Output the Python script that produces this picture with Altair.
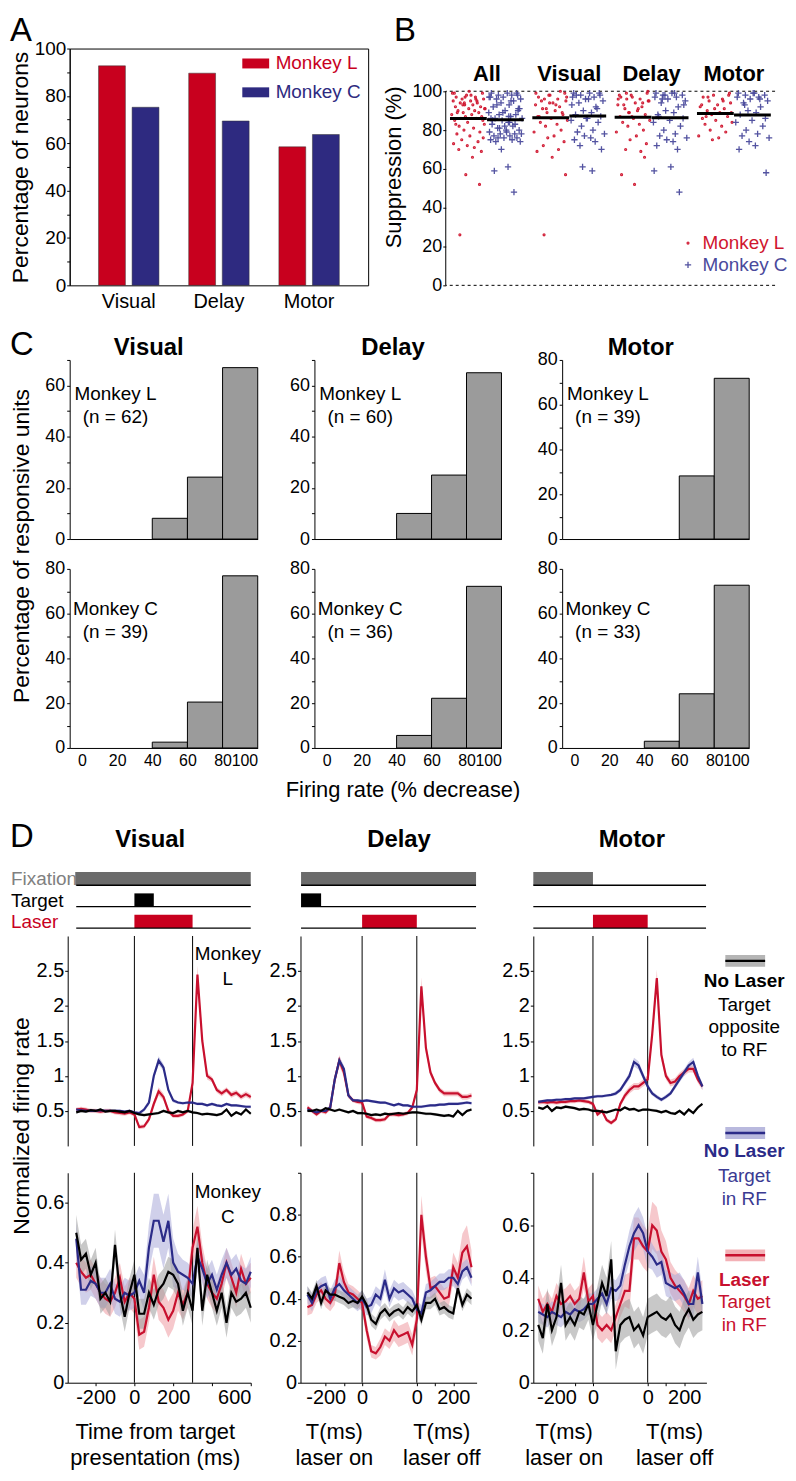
import altair as alt
import pandas as pd

FONT = "Liberation Sans"
A_RED, A_BLUE = "#c8001e", "#2e2a80"
B_RED, B_BLUE = "#d0162f", "#4a4a9c"
D_RED, D_BLUE = "#c8102e", "#2b2b88"

# ---------------- Panel A ----------------
A_EPOCHS = ["Visual", "Delay", "Motor"]
A_MONKEYS = ["Monkey L", "Monkey C"]
A_PCT_L = [92.7, 89.6, 58.5]
A_PCT_C = [75.2, 69.4, 63.7]
A_YTICKS = [0, 10, 20, 30, 40, 50, 60, 70, 80, 90, 100]

# ---------------- Panel B ----------------
B_GROUPS = ["All", "Visual", "Delay", "Motor"]
B_MONKEYS = ["Monkey L", "Monkey C"]
B_L = {
    "All": [99, 98, 97, 97, 96, 96, 95, 95, 94, 94, 93, 93, 92, 92, 91, 91, 90, 90, 89, 89, 88, 88, 87, 87, 86, 86,
            85, 84, 83, 82, 81, 80, 79, 78, 77, 76, 75, 74, 73, 72, 71, 70, 69, 97, 98, 99, 95, 93, 91, 89, 66, 57,
            52, 26, 100, 99, 96, 94, 85, 83],
    "Visual": [99, 98, 97, 96, 96, 95, 94, 93, 92, 91, 90, 89, 88, 87, 86, 85, 84, 83, 82, 80, 79, 77, 76, 74, 72,
               70, 69, 98, 97, 95, 93, 91, 89, 87, 66, 57, 26, 100, 99, 94],
    "Delay": [99, 98, 97, 96, 96, 95, 94, 93, 92, 91, 90, 89, 88, 87, 86, 85, 84, 83, 82, 80, 79, 77, 75, 73, 70,
              69, 98, 97, 95, 93, 91, 89, 66, 57, 52, 100, 99, 94, 96, 87],
    "Motor": [99, 98, 97, 96, 95, 94, 93, 92, 91, 90, 89, 88, 87, 86, 85, 84, 83, 82, 80, 79, 77, 76, 75, 98, 97,
              95, 93, 91, 89, 87],
}
B_C = {
    "All": [99, 99, 98, 98, 98, 97, 97, 96, 96, 95, 94, 93, 92, 91, 90, 89, 88, 88, 87, 86, 86, 85, 84, 83, 82, 81,
            80, 80, 79, 78, 78, 77, 77, 76, 76, 75, 75, 74, 74, 79, 81, 83, 85, 87, 89, 91, 93, 95, 97, 99, 70, 61,
            59, 48, 82, 78, 76, 84, 86, 90],
    "Visual": [99, 99, 98, 98, 97, 97, 96, 95, 94, 92, 90, 89, 88, 87, 86, 85, 84, 82, 80, 79, 78, 77, 76, 75, 74,
               72, 70, 96, 93, 91, 61, 59, 98, 99, 86],
    "Delay": [99, 99, 98, 98, 97, 97, 96, 95, 94, 92, 90, 89, 88, 86, 85, 84, 82, 80, 78, 77, 76, 75, 74, 72, 70,
              96, 93, 61, 59, 48, 98, 99, 87],
    "Motor": [99, 99, 98, 98, 97, 97, 96, 95, 94, 92, 90, 89, 88, 86, 85, 84, 82, 80, 78, 77, 76, 74, 72, 70, 96,
              93, 58, 99],
}
B_JITTER = [0.12, 0.55, 0.83, 0.31, 0.67, 0.09, 0.44, 0.91, 0.26, 0.72, 0.38, 0.60, 0.17, 0.85, 0.49, 0.05,
            0.78, 0.33, 0.64, 0.22, 0.95, 0.41, 0.58, 0.14, 0.70, 0.29, 0.87, 0.52, 0.07, 0.75, 0.36, 0.62,
            0.19, 0.81, 0.46, 0.10, 0.68, 0.24, 0.90, 0.53, 0.34, 0.76, 0.15, 0.59, 0.43, 0.88, 0.27, 0.65,
            0.06, 0.80, 0.39, 0.57, 0.20, 0.73, 0.48, 0.93, 0.30, 0.61, 0.11, 0.84, 0.45, 0.69, 0.23, 0.92]
B_MEAN_L = [85.9, 86.3, 86.6, 88.5]
B_MEAN_C = [85.3, 87.3, 86.3, 87.8]
B_REF = [0, 100]
B_YTICKS = [0, 20, 40, 60, 80, 100]

# ---------------- Panel C ----------------
C_EPOCHS = ["Visual", "Delay", "Motor"]
C_BIN_LO = [0, 20, 40, 60, 80]
C_BIN_HI = [20, 40, 60, 80, 100]
C_PCT = {
    "L": {"Visual": [0, 0, 8.1, 24.2, 67.0], "Delay": [0, 0, 10.0, 25.0, 65.0], "Motor": [0, 0, 0, 28.2, 71.8]},
    "C": {"Visual": [0, 0, 2.6, 20.5, 76.9], "Delay": [0, 0, 5.6, 22.2, 72.2], "Motor": [0, 0, 3.0, 24.2, 72.7]},
}
C_N = {"L": {"Visual": 62, "Delay": 60, "Motor": 39}, "C": {"Visual": 39, "Delay": 36, "Motor": 33}}
C_XTICKS = [0, 20, 40, 60, 80, 100]

# ---------------- Panel D ----------------
T_MS = [-300, -275, -250, -225, -200, -175, -150, -125, -100, -75, -50, -25,
        0, 25, 50, 75, 100, 125, 150, 175, 200, 225, 250, 275,
        300, 325, 350, 375, 400, 425, 450, 475, 500, 525, 550, 575, 600]
CONDS = ["Laser, target in RF", "No laser, target in RF", "No laser, target opposite to RF"]
LASER_EDGES = [0, 300]

D_DATA = {
    ("Visual", "top"): {
        "red": [0.52, 0.53, 0.52, 0.50, 0.50, 0.49, 0.50, 0.50, 0.48, 0.47, 0.46, 0.48,
                0.45, 0.27, 0.28, 0.38, 0.60, 0.78, 0.70, 0.50, 0.43, 0.43, 0.45, 0.50,
                0.90, 2.45, 1.50, 1.00, 0.95, 0.80, 0.75, 0.80, 0.73, 0.76, 0.70, 0.74, 0.70],
        "blue": [0.52, 0.51, 0.50, 0.50, 0.50, 0.51, 0.50, 0.50, 0.50, 0.50, 0.49, 0.50,
                 0.48, 0.47, 0.52, 0.62, 1.00, 1.22, 1.12, 0.80, 0.65, 0.62, 0.61, 0.62,
                 0.62, 0.60, 0.60, 0.58, 0.60, 0.58, 0.57, 0.60, 0.58, 0.58, 0.57, 0.56, 0.56],
        "black": [0.48, 0.50, 0.49, 0.51, 0.50, 0.52, 0.49, 0.50, 0.50, 0.49, 0.48, 0.50,
                  0.47, 0.45, 0.44, 0.45, 0.46, 0.47, 0.50, 0.48, 0.47, 0.50, 0.48, 0.50,
                  0.48, 0.47, 0.45, 0.46, 0.45, 0.44, 0.46, 0.52, 0.43, 0.48, 0.45, 0.52, 0.46],
        "red_s": [0.03, 0.03, 0.03, 0.03, 0.03, 0.03, 0.03, 0.03, 0.03, 0.03, 0.03, 0.03,
                  0.03, 0.03, 0.03, 0.04, 0.05, 0.06, 0.05, 0.04, 0.03, 0.03, 0.03, 0.03,
                  0.06, 0.13, 0.09, 0.05, 0.04, 0.04, 0.04, 0.04, 0.04, 0.04, 0.04, 0.04, 0.04],
        "blue_s": [0.02, 0.02, 0.02, 0.02, 0.02, 0.02, 0.02, 0.02, 0.02, 0.02, 0.02, 0.02,
                   0.02, 0.02, 0.03, 0.04, 0.05, 0.06, 0.05, 0.04, 0.03, 0.02, 0.02, 0.02,
                   0.02, 0.02, 0.02, 0.02, 0.02, 0.02, 0.02, 0.02, 0.02, 0.02, 0.02, 0.02, 0.02],
        "black_s": [0.02, 0.02, 0.02, 0.02, 0.02, 0.02, 0.02, 0.02, 0.02, 0.02, 0.02, 0.02,
                    0.02, 0.02, 0.02, 0.02, 0.02, 0.02, 0.02, 0.02, 0.02, 0.02, 0.02, 0.02,
                    0.02, 0.02, 0.02, 0.02, 0.02, 0.02, 0.02, 0.02, 0.02, 0.02, 0.02, 0.02, 0.02],
    },
    ("Visual", "bot"): {
        "red": [0.40, 0.37, 0.35, 0.36, 0.33, 0.30, 0.28, 0.27, 0.30, 0.35, 0.27, 0.30,
                0.28, 0.16, 0.17, 0.25, 0.36, 0.27, 0.25, 0.21, 0.24, 0.30, 0.26, 0.30,
                0.45, 0.52, 0.40, 0.33, 0.30, 0.28, 0.33, 0.40, 0.35, 0.30, 0.38, 0.33, 0.35],
        "blue": [0.48, 0.31, 0.31, 0.34, 0.33, 0.30, 0.30, 0.33, 0.28, 0.27, 0.30, 0.29,
                 0.30, 0.34, 0.30, 0.45, 0.54, 0.54, 0.47, 0.54, 0.40, 0.37, 0.36, 0.35,
                 0.33, 0.42, 0.38, 0.33, 0.36, 0.31, 0.36, 0.40, 0.36, 0.38, 0.34, 0.33, 0.37],
        "black": [0.50, 0.41, 0.43, 0.36, 0.40, 0.28, 0.30, 0.27, 0.46, 0.30, 0.22, 0.30,
                  0.36, 0.23, 0.23, 0.30, 0.26, 0.31, 0.33, 0.37, 0.36, 0.33, 0.24, 0.30,
                  0.24, 0.45, 0.24, 0.36, 0.30, 0.24, 0.30, 0.20, 0.30, 0.27, 0.28, 0.30, 0.25],
        "red_s": [0.05, 0.05, 0.05, 0.05, 0.05, 0.05, 0.05, 0.05, 0.05, 0.05, 0.05, 0.05,
                  0.05, 0.05, 0.05, 0.05, 0.06, 0.06, 0.06, 0.06, 0.06, 0.06, 0.05, 0.05,
                  0.06, 0.07, 0.06, 0.05, 0.05, 0.05, 0.05, 0.05, 0.05, 0.05, 0.05, 0.05, 0.05],
        "blue_s": [0.06, 0.05, 0.05, 0.05, 0.05, 0.05, 0.05, 0.05, 0.05, 0.05, 0.05, 0.05,
                   0.05, 0.05, 0.06, 0.08, 0.09, 0.09, 0.09, 0.09, 0.08, 0.06, 0.05, 0.05,
                   0.05, 0.05, 0.05, 0.05, 0.05, 0.05, 0.05, 0.05, 0.05, 0.05, 0.05, 0.05, 0.05],
        "black_s": [0.06, 0.05, 0.05, 0.05, 0.05, 0.05, 0.05, 0.05, 0.05, 0.05, 0.05, 0.05,
                    0.05, 0.05, 0.05, 0.05, 0.05, 0.05, 0.05, 0.05, 0.05, 0.05, 0.05, 0.05,
                    0.05, 0.05, 0.05, 0.05, 0.05, 0.05, 0.05, 0.05, 0.05, 0.05, 0.05, 0.05, 0.05],
    },
    ("Delay", "top"): {
        "red": [0.55, 0.50, 0.45, 0.50, 0.48, 0.55, 0.95, 1.22, 1.05, 0.72, 0.65, 0.63,
                0.62, 0.42, 0.40, 0.37, 0.37, 0.38, 0.45, 0.45, 0.44, 0.45, 0.47, 0.55,
                0.80, 2.28, 1.40, 1.05, 0.90, 0.80, 0.75, 0.75, 0.75, 0.75, 0.70, 0.70, 0.72],
        "blue": [0.52, 0.50, 0.48, 0.50, 0.50, 0.55, 0.95, 1.22, 1.10, 0.72, 0.65, 0.65,
                 0.64, 0.65, 0.64, 0.63, 0.62, 0.62, 0.60, 0.58, 0.60, 0.58, 0.58, 0.56,
                 0.56, 0.56, 0.57, 0.58, 0.58, 0.59, 0.59, 0.60, 0.60, 0.60, 0.61, 0.62, 0.61],
        "black": [0.50, 0.50, 0.52, 0.50, 0.54, 0.52, 0.50, 0.52, 0.50, 0.48, 0.50, 0.47,
                  0.47, 0.46, 0.44, 0.45, 0.44, 0.46, 0.45, 0.46, 0.47, 0.46, 0.47, 0.48,
                  0.48, 0.47, 0.46, 0.46, 0.45, 0.44, 0.43, 0.44, 0.42, 0.50, 0.44, 0.50, 0.52],
        "red_s": [0.03, 0.03, 0.03, 0.03, 0.03, 0.04, 0.06, 0.08, 0.06, 0.04, 0.03, 0.03,
                  0.03, 0.03, 0.03, 0.03, 0.03, 0.03, 0.03, 0.03, 0.03, 0.03, 0.03, 0.03,
                  0.05, 0.13, 0.08, 0.05, 0.04, 0.04, 0.04, 0.04, 0.04, 0.04, 0.04, 0.04, 0.04],
        "blue_s": [0.02, 0.02, 0.02, 0.02, 0.02, 0.03, 0.05, 0.06, 0.05, 0.03, 0.02, 0.02,
                   0.02, 0.02, 0.02, 0.02, 0.02, 0.02, 0.02, 0.02, 0.02, 0.02, 0.02, 0.02,
                   0.02, 0.02, 0.02, 0.02, 0.02, 0.02, 0.02, 0.02, 0.02, 0.02, 0.02, 0.02, 0.02],
        "black_s": [0.02, 0.02, 0.02, 0.02, 0.02, 0.02, 0.02, 0.02, 0.02, 0.02, 0.02, 0.02,
                    0.02, 0.02, 0.02, 0.02, 0.02, 0.02, 0.02, 0.02, 0.02, 0.02, 0.02, 0.02,
                    0.02, 0.02, 0.02, 0.02, 0.02, 0.02, 0.02, 0.02, 0.02, 0.02, 0.02, 0.02, 0.02],
    },
    ("Delay", "bot"): {
        "red": [0.36, 0.37, 0.42, 0.44, 0.40, 0.38, 0.42, 0.57, 0.48, 0.43, 0.42, 0.40,
                0.38, 0.25, 0.15, 0.14, 0.17, 0.22, 0.20, 0.25, 0.22, 0.23, 0.24, 0.18,
                0.30, 0.80, 0.60, 0.45, 0.46, 0.43, 0.40, 0.41, 0.55, 0.50, 0.62, 0.65, 0.55],
        "blue": [0.42, 0.38, 0.44, 0.46, 0.47, 0.40, 0.45, 0.47, 0.44, 0.42, 0.40, 0.38,
                 0.40, 0.36, 0.37, 0.42, 0.40, 0.49, 0.40, 0.45, 0.43, 0.44, 0.42, 0.40,
                 0.35, 0.33, 0.43, 0.44, 0.46, 0.48, 0.48, 0.50, 0.50, 0.47, 0.53, 0.55, 0.50],
        "black": [0.43, 0.40, 0.46, 0.38, 0.44, 0.42, 0.42, 0.41, 0.40, 0.38, 0.39, 0.38,
                  0.41, 0.37, 0.30, 0.28, 0.33, 0.35, 0.32, 0.34, 0.35, 0.33, 0.36, 0.34,
                  0.37, 0.30, 0.38, 0.38, 0.40, 0.35, 0.36, 0.34, 0.33, 0.45, 0.37, 0.42, 0.40],
        "red_s": [0.04, 0.04, 0.04, 0.04, 0.04, 0.04, 0.05, 0.06, 0.05, 0.04, 0.04, 0.04,
                  0.04, 0.04, 0.03, 0.03, 0.04, 0.04, 0.04, 0.05, 0.05, 0.05, 0.05, 0.05,
                  0.05, 0.09, 0.07, 0.05, 0.05, 0.05, 0.05, 0.05, 0.07, 0.07, 0.09, 0.10, 0.08],
        "blue_s": [0.04, 0.04, 0.04, 0.04, 0.04, 0.04, 0.04, 0.04, 0.04, 0.04, 0.04, 0.04,
                   0.04, 0.04, 0.04, 0.04, 0.04, 0.05, 0.04, 0.04, 0.04, 0.04, 0.04, 0.04,
                   0.04, 0.04, 0.04, 0.04, 0.04, 0.04, 0.04, 0.04, 0.04, 0.04, 0.04, 0.04, 0.04],
        "black_s": [0.03, 0.03, 0.03, 0.03, 0.03, 0.03, 0.03, 0.03, 0.03, 0.03, 0.03, 0.03,
                    0.03, 0.03, 0.03, 0.03, 0.03, 0.03, 0.03, 0.03, 0.03, 0.03, 0.03, 0.03,
                    0.03, 0.03, 0.03, 0.03, 0.03, 0.03, 0.03, 0.03, 0.03, 0.03, 0.03, 0.03, 0.03],
    },
    ("Motor", "top"): {
        "red": [0.62, 0.63, 0.62, 0.63, 0.62, 0.63, 0.63, 0.64, 0.64, 0.65, 0.64, 0.63,
                0.60, 0.45, 0.50, 0.37, 0.33, 0.38, 0.60, 0.72, 0.80, 0.85, 0.85, 0.90,
                0.95, 1.60, 2.40, 1.30, 1.00, 0.90, 0.92, 1.00, 1.05, 1.10, 1.10, 0.95, 0.85],
        "blue": [0.63, 0.64, 0.65, 0.65, 0.66, 0.66, 0.67, 0.67, 0.68, 0.68, 0.68, 0.69,
                 0.70, 0.71, 0.71, 0.72, 0.73, 0.75, 0.80, 0.90, 1.00, 1.20, 1.15, 1.00,
                 0.85, 0.75, 0.70, 0.66, 0.70, 0.75, 0.85, 0.95, 1.05, 1.15, 1.20, 1.00, 0.85],
        "black": [0.55, 0.53, 0.57, 0.50, 0.55, 0.54, 0.56, 0.55, 0.54, 0.52, 0.53, 0.52,
                  0.50, 0.50, 0.49, 0.48, 0.50, 0.52, 0.51, 0.55, 0.52, 0.53, 0.50, 0.52,
                  0.52, 0.51, 0.50, 0.48, 0.50, 0.47, 0.46, 0.50, 0.45, 0.52, 0.47, 0.55, 0.60],
        "red_s": [0.03, 0.03, 0.03, 0.03, 0.03, 0.03, 0.03, 0.03, 0.03, 0.03, 0.03, 0.03,
                  0.03, 0.03, 0.03, 0.03, 0.03, 0.03, 0.04, 0.05, 0.05, 0.05, 0.05, 0.05,
                  0.06, 0.10, 0.12, 0.08, 0.05, 0.05, 0.05, 0.05, 0.05, 0.05, 0.05, 0.05, 0.05],
        "blue_s": [0.02, 0.02, 0.02, 0.02, 0.02, 0.02, 0.02, 0.02, 0.02, 0.02, 0.02, 0.02,
                   0.02, 0.02, 0.02, 0.02, 0.02, 0.03, 0.03, 0.04, 0.05, 0.06, 0.06, 0.05,
                   0.04, 0.03, 0.03, 0.03, 0.03, 0.03, 0.04, 0.04, 0.05, 0.05, 0.06, 0.05, 0.05],
        "black_s": [0.02, 0.02, 0.02, 0.02, 0.02, 0.02, 0.02, 0.02, 0.02, 0.02, 0.02, 0.02,
                    0.02, 0.02, 0.02, 0.02, 0.02, 0.02, 0.02, 0.02, 0.02, 0.02, 0.02, 0.02,
                    0.02, 0.02, 0.02, 0.02, 0.02, 0.02, 0.02, 0.02, 0.02, 0.02, 0.02, 0.02, 0.02],
    },
    ("Motor", "bot"): {
        "red": [0.32, 0.27, 0.30, 0.27, 0.33, 0.30, 0.31, 0.33, 0.30, 0.32, 0.42, 0.31,
                0.33, 0.22, 0.20, 0.22, 0.20, 0.25, 0.30, 0.35, 0.35, 0.55, 0.55, 0.52,
                0.50, 0.60, 0.58, 0.50, 0.47, 0.40, 0.37, 0.35, 0.33, 0.30, 0.35, 0.32, 0.33],
        "blue": [0.27, 0.26, 0.25, 0.27, 0.26, 0.25, 0.27, 0.26, 0.28, 0.27, 0.28, 0.30,
                 0.30, 0.32, 0.34, 0.30, 0.36, 0.35, 0.37, 0.45, 0.52, 0.57, 0.60, 0.57,
                 0.50, 0.48, 0.45, 0.46, 0.38, 0.37, 0.36, 0.37, 0.34, 0.30, 0.30, 0.42, 0.30],
        "black": [0.22, 0.17, 0.30, 0.20, 0.25, 0.38, 0.22, 0.25, 0.22, 0.27, 0.26, 0.30,
                  0.22, 0.30, 0.38, 0.33, 0.47, 0.12, 0.22, 0.24, 0.25, 0.20, 0.22, 0.18,
                  0.25, 0.26, 0.27, 0.25, 0.24, 0.26, 0.22, 0.20, 0.25, 0.28, 0.24, 0.26, 0.27],
        "red_s": [0.05, 0.05, 0.05, 0.05, 0.05, 0.05, 0.05, 0.05, 0.05, 0.05, 0.06, 0.05,
                  0.05, 0.05, 0.05, 0.05, 0.05, 0.05, 0.05, 0.06, 0.07, 0.08, 0.08, 0.08,
                  0.08, 0.09, 0.09, 0.08, 0.07, 0.06, 0.06, 0.06, 0.06, 0.06, 0.06, 0.06, 0.06],
        "blue_s": [0.04, 0.04, 0.04, 0.04, 0.04, 0.04, 0.04, 0.04, 0.04, 0.04, 0.04, 0.04,
                   0.04, 0.04, 0.04, 0.04, 0.04, 0.04, 0.05, 0.05, 0.06, 0.07, 0.07, 0.06,
                   0.06, 0.05, 0.05, 0.05, 0.05, 0.05, 0.05, 0.05, 0.05, 0.05, 0.05, 0.06, 0.05],
        "black_s": [0.06, 0.06, 0.06, 0.06, 0.06, 0.07, 0.06, 0.06, 0.06, 0.06, 0.06, 0.06,
                    0.06, 0.07, 0.07, 0.07, 0.07, 0.07, 0.07, 0.07, 0.07, 0.07, 0.07, 0.07,
                    0.07, 0.07, 0.07, 0.07, 0.07, 0.07, 0.07, 0.07, 0.07, 0.07, 0.07, 0.07, 0.07],
    },
}

EV_NAMES = ["Laser", "Target", "Fixation"]
EV_LANE = {"Laser": 0, "Target": 1, "Fixation": 2}
EV_SPAN = {"Visual": [-300, 600], "Delay": [-335, 625], "Motor": [-327, 620]}
EV_BARS = {
    "Visual": [("Fixation", -305, 600), ("Target", 0, 100), ("Laser", 0, 300)],
    "Delay": [("Fixation", -335, 625), ("Target", -335, -225), ("Laser", 0, 300)],
    "Motor": [("Fixation", -327, 0), ("Laser", 0, 300)],
}

# ---------------- layout settings ----------------
XDOM = {"Visual": [-344, 600], "Delay": [-338, 628], "Motor": [-327, 622]}
XW = {"Visual": 184, "Delay": 177, "Motor": 174}
YBOT = {"Visual": 0.7, "Delay": 1.0, "Motor": 0.8}
ONE = pd.DataFrame({"k": [0]})
NOVIEW = alt.ViewBackground(stroke=None)
INDEP = dict(color="independent", fill="independent", stroke="independent", shape="independent")


def spacer(w, h):
    # invisible box that only reserves room in the grid
    return alt.Chart(ONE).mark_rect(opacity=0).encode(
        x=alt.value(0), x2=alt.value(1), y=alt.value(0), y2=alt.value(1)
    ).properties(width=w, height=h, view=NOVIEW)


def label(txt, x, y, size=19, weight="normal", color="black", align="center", baseline="middle", angle=0):
    kw = dict(fontSize=size, fontWeight=weight, color=color, align=align, baseline=baseline, font=FONT)
    if angle:
        kw["angle"] = angle
    return alt.Chart(ONE).mark_text(**kw).encode(x=alt.value(x), y=alt.value(y), text=alt.value(txt))


# ================= Panel A =================
dfA = pd.DataFrame({"epoch": A_EPOCHS + A_EPOCHS,
                    "monkey": [A_MONKEYS[0]] * 3 + [A_MONKEYS[1]] * 3,
                    "pct": A_PCT_L + A_PCT_C})
barsA = alt.Chart(dfA).mark_bar(stroke="#333333", strokeWidth=0.5).encode(
    x=alt.X("epoch:N", sort=A_EPOCHS, scale=alt.Scale(paddingInner=0.33, paddingOuter=0.32),
            axis=alt.Axis(title=None, labelAngle=0, ticks=False, domain=False, labelFontSize=20, labelPadding=6)),
    xOffset=alt.XOffset("monkey:N", sort=A_MONKEYS, scale=alt.Scale(paddingInner=0.2, paddingOuter=0)),
    y=alt.Y("pct:Q", scale=alt.Scale(domain=[0, 100], nice=False),
            axis=alt.Axis(title="Percentage of neurons", values=A_YTICKS,
                          labelExpr="datum.value % 20 == 0 ? datum.label : ''",
                          tickSize=3, labelPadding=1, titlePadding=2, titleFontSize=23, labelFontSize=19)),
    color=alt.Color("monkey:N", sort=A_MONKEYS, scale=alt.Scale(domain=A_MONKEYS, range=[A_RED, A_BLUE]),
                    legend=alt.Legend(title=None, orient="none", legendX=177, legendY=5,
                                      symbolType="M-1.35,-0.5H1.35V0.5H-1.35Z", symbolSize=400,
                                      symbolStrokeWidth=0, labelFontSize=19, labelOffset=10, rowPadding=9,
                                      labelColor={"expr": "datum.label == 'Monkey L' ? '%s' : '%s'" % (A_RED, A_BLUE)})),
)
chartA = alt.layer(barsA, label("A", -60, -8, size=33, align="left", baseline="alphabetic")).properties(
    width=300, height=238, view=alt.ViewBackground(stroke="black", strokeWidth=1))

# ================= Panel B =================
recB = []
for g in B_GROUPS:
    for v, o in zip(B_L[g], B_JITTER):
        recB.append({"group": g, "monkey": "Monkey L", "supp": v, "off": -o})
    for v, o in zip(B_C[g], B_JITTER):
        recB.append({"group": g, "monkey": "Monkey C", "supp": v, "off": o})
dfB = pd.DataFrame(recB)
dfBm = pd.DataFrame({"group": B_GROUPS + B_GROUPS,
                     "monkey": ["Monkey L"] * 4 + ["Monkey C"] * 4,
                     "mean": B_MEAN_L + B_MEAN_C})
xB = alt.X("group:N", sort=B_GROUPS, scale=alt.Scale(domain=B_GROUPS, paddingInner=0.1, paddingOuter=0.05),
           axis=alt.Axis(orient="top", offset=-39, domain=False, ticks=False, labelFontSize=22,
                         labelFontWeight="bold", labelPadding=2, labelAngle=0, title=None))
yB = alt.Y("supp:Q", scale=alt.Scale(domain=[0, 122], nice=False),
           axis=alt.Axis(values=B_YTICKS, domain=False, tickSize=3, labelPadding=1, title="Suppression (%)",
                         titleFontSize=22, titlePadding=6, labelFontSize=18))
legB = alt.Legend(title=None, orient="none", legendX=234, legendY=186, labelFontSize=19, labelOffset=5,
                  rowPadding=2, symbolStrokeWidth=1.3, symbolSize=40,
                  labelColor={"expr": "datum.label == 'Monkey L' ? '%s' : '%s'" % (B_RED, B_BLUE)})
ptsB = alt.Chart(dfB).mark_point(filled=False, strokeWidth=1.3, size=40, opacity=0.95).encode(
    x=xB,
    xOffset=alt.XOffset("off:Q", scale=alt.Scale(domain=[-1, 1])),
    y=yB,
    color=alt.Color("monkey:N", sort=B_MONKEYS, scale=alt.Scale(domain=B_MONKEYS, range=[B_RED, B_BLUE]), legend=legB),
    shape=alt.Shape("monkey:N", sort=B_MONKEYS,
                    scale=alt.Scale(domain=B_MONKEYS,
                                    range=["M-0.3,0A0.3,0.3 0 1,0 0.3,0A0.3,0.3 0 1,0 -0.3,0", "M-1,0H1M0,-1V1"]),
                    legend=legB),
)
meanB = alt.Chart(dfBm).mark_tick(color="black", thickness=3, size=37, orient="horizontal", opacity=1).encode(
    x=alt.X("group:N", sort=B_GROUPS),
    xOffset=alt.XOffset("monkey:N", sort=B_MONKEYS,
                        scale=alt.Scale(domain=B_MONKEYS, paddingInner=0, paddingOuter=0)),
    y=alt.Y("mean:Q"),
)
refB = alt.Chart(pd.DataFrame({"y": B_REF})).mark_rule(color="black", strokeDash=[3, 3], strokeWidth=1).encode(
    y=alt.Y("y:Q"))
axB = alt.Chart(ONE).mark_rule(color="black", strokeWidth=1).encode(
    x=alt.value(0), y=alt.datum(0), y2=alt.datum(100))
chartB = alt.layer(refB, axB, ptsB, meanB, label("B", -52, -8, size=33, align="left", baseline="alphabetic")
                   ).resolve_scale(xOffset="independent").properties(width=331, height=238, view=NOVIEW)


# ================= Panel C =================
def c_panel(epoch, mk, top):
    ymax = 70 if (top and epoch != "Motor") else 80
    yt = list(range(0, ymax + 1, 10))
    df = pd.DataFrame({"lo": C_BIN_LO, "hi": C_BIN_HI, "pct": C_PCT[mk][epoch]})
    if top:
        xax = alt.Axis(labels=False, ticks=False, title=None, domain=True)
    else:
        xax = alt.Axis(values=C_XTICKS, ticks=False, labelPadding=5, labelFontSize=16,
                       labelOverlap=False, title=None, domain=True)
    bars = alt.Chart(df).transform_filter("datum.pct > 0").mark_rect(
        fill="#9b9b9b", stroke="black", strokeWidth=1).encode(
        x=alt.X("lo:Q", scale=alt.Scale(domain=[-7, 100], nice=False, zero=False), axis=xax),
        x2="hi:Q",
        y=alt.Y("pct:Q", scale=alt.Scale(domain=[0, ymax], nice=False),
                axis=alt.Axis(values=yt, labelExpr="datum.value % 20 == 0 ? datum.label : ''",
                              tickSize=3, labelPadding=2, labelFontSize=18, title=None)),
        y2=alt.datum(0),
    )
    txt = "Monkey %s\n(n = %d)" % (mk, C_N[mk][epoch])
    ann = alt.Chart(ONE).mark_text(fontSize=19, font=FONT, align="center", baseline="middle", lineBreak="\n",
                                   lineHeight=23).encode(
        x=alt.value(46), y=alt.value(34 if top else 40), text=alt.value(txt))
    layers = [bars, ann]
    w = 189 if epoch == "Visual" else 188
    if top:
        layers.append(label(epoch, w / 2 - 15, -5, size=24, weight="bold", baseline="alphabetic"))
    if top and epoch == "Visual":
        layers.append(label("C", -60, -5, size=33, align="left", baseline="alphabetic"))
    if (not top) and epoch == "Visual":
        layers.append(label("Percentage of responsive units", -48, -23, size=23, angle=270))
    if (not top) and epoch == "Delay":
        layers.append(label("Firing rate (% decrease)", 89, 222, size=22))
    return alt.layer(*layers).properties(width=w, height=180, view=NOVIEW)


# ================= Panel D =================
LINE_COLORS = [D_RED, D_BLUE, "black"]
BAND_COLORS = ["#ee9aa2", "#a9a9d9", "#9a9a9a"]


def d_panel(col, row):
    data = D_DATA[(col, row)]
    rec = []
    for cond, key in zip(CONDS, ["red", "blue", "black"]):
        for t, m, s in zip(T_MS, data[key], data[key + "_s"]):
            rec.append({"t": t, "cond": cond, "m": m, "lo": m - s, "hi": m + s})
    df = pd.DataFrame(rec)
    xs = alt.Scale(domain=XDOM[col], nice=False, zero=False)
    if row == "top":
        ys = alt.Scale(domain=[0, 3], nice=False)
        yax = alt.Axis(values=[0.5, 1, 1.5, 2, 2.5], format=".1~f", title=None, tickSize=3, labelPadding=1,
                       labelFontSize=20)
        xax = None
    else:
        ymax = YBOT[col]
        ys = alt.Scale(domain=[0, ymax], nice=False)
        yvals = [round(v / 10, 1) for v in range(0, int(round(ymax * 10)) + 1)]
        lim = 0.95 if col == "Delay" else 0.65
        yax = alt.Axis(values=yvals, title=None, tickSize=3, labelPadding=1, labelFontSize=20,
                       labelExpr="round(datum.value*10) %% 2 == 0 && datum.value < %s ? format(datum.value, '.1~f') : ''" % lim)
        if col == "Visual":
            xax = alt.Axis(values=[-200, 0, 200, 400, 600], title=None, tickSize=3, labelPadding=2,
                           labelFontSize=20, labelExpr="datum.value == 400 ? '' : '' + datum.value")
        else:
            xax = alt.Axis(values=[-200, -100, 0, 300, 400, 500], title=None, tickSize=3, labelPadding=2,
                           labelFontSize=20,
                           labelExpr="datum.value == 300 ? '0' : datum.value == 500 ? '200' : (datum.value == -200 || datum.value == 0) ? '' + datum.value : ''")
    X = alt.X("t:Q", scale=xs, axis=xax)
    band = alt.Chart(df).mark_area(fillOpacity=0.55).encode(
        x=X, y=alt.Y("lo:Q", scale=ys, axis=yax), y2="hi:Q",
        fill=alt.Fill("cond:N", scale=alt.Scale(domain=CONDS, range=BAND_COLORS), legend=None))
    vl = alt.Chart(pd.DataFrame({"t": LASER_EDGES})).mark_rule(color="black", strokeWidth=1).encode(x=X)
    line = alt.Chart(df).mark_line(strokeWidth=2.2).encode(
        x=X, y=alt.Y("m:Q", scale=ys),
        stroke=alt.Stroke("cond:N", scale=alt.Scale(domain=CONDS, range=LINE_COLORS), legend=None))
    layers = [band, vl, line]
    if col == "Visual":
        mk = "L" if row == "top" else "C"
        layers.append(alt.Chart(ONE).mark_text(fontSize=19, font=FONT, align="center", baseline="middle",
                                               lineBreak="\n", lineHeight=25).encode(
            x=alt.value(161), y=alt.value(18.5 if row == "top" else 19), text=alt.value("Monkey\n" + mk)))
        if row == "top":
            layers.append(label("Normalized firing rate", -46, 191, size=23, angle=270))
        else:
            layers.append(label("Time from target", 88, 261, size=22))
            layers.append(label("presentation (ms)", 88, 287, size=22))
    if row == "bot" and col != "Visual":
        lx, rx = (34, 142) if col == "Delay" else (31, 142)
        layers += [label("T(ms)", lx, 261, size=22), label("laser on", lx, 287, size=22),
                   label("T(ms)", rx, 261, size=22), label("laser off", rx, 287, size=22)]
    if row == "top" and col == "Motor":
        sx1, sx2, cx = 193, 233, 212
        for (b1, b2, ln, fillc, linec) in [(19, 31, 25, "#b5b5b5", "black"),
                                           (192, 204, 198, "#b9b9de", D_BLUE),
                                           (315, 327, 321, "#f3b1b6", D_RED)]:
            layers.append(alt.Chart(ONE).mark_rect(color=fillc).encode(
                x=alt.value(sx1), x2=alt.value(sx2), y=alt.value(b1), y2=alt.value(b2)))
            layers.append(alt.Chart(ONE).mark_rule(color=linec, strokeWidth=2.5).encode(
                x=alt.value(sx1), x2=alt.value(sx2), y=alt.value(ln)))
        layers += [label("No Laser", cx, 45, weight="bold"),
                   label("Target", cx, 69), label("opposite", cx, 92), label("to RF", cx, 115),
                   label("No Laser", cx, 216, weight="bold", color=D_BLUE),
                   label("Target", cx, 241, color="#3a3a92"), label("in RF", cx, 264, color="#3a3a92"),
                   label("Laser", cx, 346, weight="bold", color=D_RED),
                   label("Target", cx, 368, color=D_RED), label("in RF", cx, 391, color=D_RED)]
    return alt.layer(*layers).resolve_scale(**INDEP).properties(width=XW[col], height=211, view=NOVIEW)


def ev_chart(col):
    xs = alt.Scale(domain=XDOM[col], nice=False, zero=False)
    ys = alt.Scale(domain=[0, 2.93], nice=False)
    lines = pd.DataFrame({"name": EV_NAMES, "lane": [EV_LANE[n] for n in EV_NAMES],
                          "start": [EV_SPAN[col][0]] * 3, "end": [EV_SPAN[col][1]] * 3})
    bars = pd.DataFrame({"name": [b[0] for b in EV_BARS[col]],
                         "lane": [EV_LANE[b[0]] for b in EV_BARS[col]],
                         "start": [b[1] for b in EV_BARS[col]],
                         "end": [b[2] for b in EV_BARS[col]]})
    rect = alt.Chart(bars).transform_calculate(top="datum.lane + 0.62").mark_rect().encode(
        x=alt.X("start:Q", scale=xs, axis=None), x2="end:Q",
        y=alt.Y("lane:Q", scale=ys, axis=None), y2="top:Q",
        fill=alt.Fill("name:N", scale=alt.Scale(domain=EV_NAMES, range=[A_RED, "black", "#6b6b6b"]), legend=None))
    rl = alt.Chart(lines).mark_rule(color="black", strokeWidth=1.3).encode(
        x=alt.X("start:Q", scale=xs, axis=None), x2="end:Q", y=alt.Y("lane:Q", scale=ys, axis=None))
    layers = [rect, rl]
    tx = {"Visual": 83, "Delay": 99, "Motor": 99}[col]
    layers.append(label(col, tx, -18, size=24, weight="bold", baseline="alphabetic"))
    if col == "Visual":
        layers.append(alt.Chart(lines).mark_text(fontSize=19, font=FONT, align="left", baseline="alphabetic").encode(
            x=alt.value(-57), y=alt.Y("lane:Q", scale=ys, axis=None), text="name:N",
            color=alt.Color("name:N", scale=alt.Scale(domain=EV_NAMES, range=[A_RED, "black", "#808080"]),
                            legend=None)))
        layers.append(label("D", -58, -18, size=33, align="left", baseline="alphabetic"))
    return alt.layer(*layers).resolve_scale(**INDEP).properties(width=XW[col], height=63, view=NOVIEW)


# ================= assemble =================
def grid(items, cols):
    return alt.concat(*items, columns=cols, spacing=0, bounds="flush", align="each").resolve_scale(**INDEP)


row1 = grid([spacer(61, 37), spacer(300, 1), spacer(78, 1), spacer(331, 1),
             spacer(61, 275), chartA, spacer(78, 1), chartB], 4)

rowC = grid([spacer(61, 38)] + [spacer(1, 1) for _ in range(5)] +
            [spacer(61, 180), c_panel("Visual", "L", True), spacer(57, 1), c_panel("Delay", "L", True),
             spacer(61, 1), c_panel("Motor", "L", True)] +
            [spacer(61, 30)] + [spacer(1, 1) for _ in range(5)] +
            [spacer(61, 244), c_panel("Visual", "C", False), spacer(57, 1), c_panel("Delay", "C", False),
             spacer(61, 1), c_panel("Motor", "C", False)], 6)

rowD = grid([spacer(59, 54)] + [spacer(1, 1) for _ in range(5)] +
            [spacer(59, 63), ev_chart("Visual"), spacer(50, 1), ev_chart("Delay"), spacer(57, 1), ev_chart("Motor")] +
            [spacer(59, 8)] + [spacer(1, 1) for _ in range(5)] +
            [spacer(59, 211), d_panel("Visual", "top"), spacer(50, 1), d_panel("Delay", "top"), spacer(57, 1),
             d_panel("Motor", "top")] +
            [spacer(59, 27)] + [spacer(1, 1) for _ in range(5)] +
            [spacer(59, 294), d_panel("Visual", "bot"), spacer(50, 1), d_panel("Delay", "bot"), spacer(57, 1),
             d_panel("Motor", "bot")], 6)

chart = alt.vconcat(row1, rowC, rowD, spacing=0).resolve_scale(**INDEP).properties(padding=0).configure(
    font=FONT).configure_view(stroke=None).configure_axis(
    labelFont=FONT, titleFont=FONT, labelColor="black", titleColor="black", tickColor="black",
    domainColor="black", grid=False, titleFontWeight="normal").configure_legend(labelFont=FONT)

chart.save("out.html", embed_options={"renderer": "svg", "actions": False})
